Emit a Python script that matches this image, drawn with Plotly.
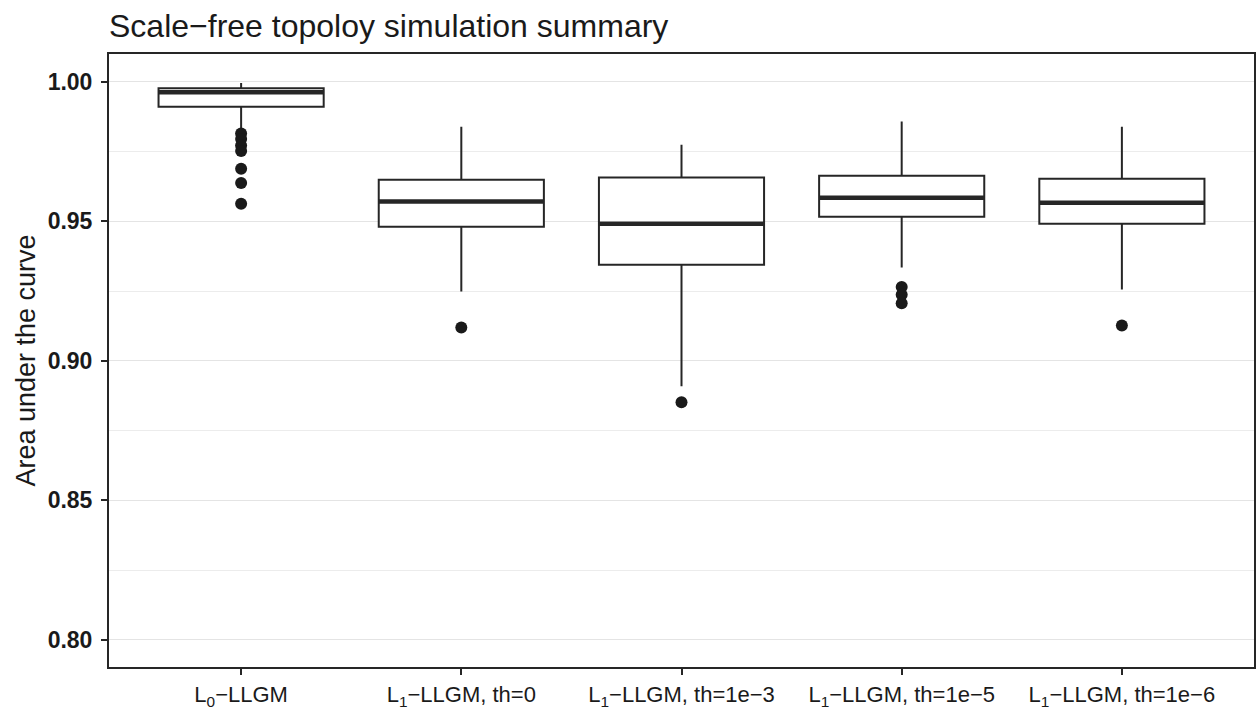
import plotly.graph_objects as go

# Method labels along the x axis
methods = [
    "L<sub>0</sub>\u2212LLGM",
    "L<sub>1</sub>\u2212LLGM, th=0",
    "L<sub>1</sub>\u2212LLGM, th=1e\u22123",
    "L<sub>1</sub>\u2212LLGM, th=1e\u22125",
    "L<sub>1</sub>\u2212LLGM, th=1e\u22126",
]

# Box summary statistics (AUC) per method
lower_whisker = [0.9815, 0.9249, 0.8909, 0.9335, 0.9256]
q1 = [0.9911, 0.9481, 0.9345, 0.9517, 0.9492]
median = [0.9963, 0.9571, 0.9492, 0.9585, 0.9567]
q3 = [0.9977, 0.9649, 0.9657, 0.9664, 0.9653]
upper_whisker = [0.9996, 0.9839, 0.9775, 0.9858, 0.9839]

# Outlying runs per method
outliers = [
    [0.9815, 0.9795, 0.9772, 0.9752, 0.9689, 0.9638, 0.9563],
    [0.9120],
    [0.8852],
    [0.9265, 0.9237, 0.9207],
    [0.9127],
]

y_ticks = [0.80, 0.85, 0.90, 0.95, 1.00]

positions = list(range(1, len(methods) + 1))
box_width = 0.75
ink = "#262626"

fig = go.Figure()

fig.add_trace(go.Box(
    x=positions,
    q1=q1,
    median=median,
    q3=q3,
    lowerfence=lower_whisker,
    upperfence=upper_whisker,
    width=box_width,
    whiskerwidth=0,
    fillcolor="white",
    line=dict(color=ink, width=2),
    boxpoints=False,
    hoverinfo="skip",
    showlegend=False,
))

# Thick median bars
mx, my = [], []
for p, m in zip(positions, median):
    mx += [p - box_width / 2, p + box_width / 2, None]
    my += [m, m, None]
fig.add_trace(go.Scatter(
    x=mx, y=my, mode="lines",
    line=dict(color=ink, width=4.5),
    hoverinfo="skip", showlegend=False,
))

# Outlier points
ox, oy = [], []
for p, vals in zip(positions, outliers):
    ox += [p] * len(vals)
    oy += vals
fig.add_trace(go.Scatter(
    x=ox, y=oy, mode="markers",
    marker=dict(color="#1a1a1a", size=12),
    hoverinfo="skip", showlegend=False,
))

fig.update_layout(
    width=1257, height=711,
    margin=dict(l=109, r=1, t=54, b=43),
    paper_bgcolor="white",
    plot_bgcolor="white",
    font=dict(family="Liberation Sans, Arial, sans-serif", color="#1a1a1a"),
    title=dict(
        text="Scale\u2212free topoloy simulation summary",
        x=109 / 1257, xanchor="left", xref="container",
        y=1 - 26 / 711, yanchor="middle", yref="container",
        font=dict(size=32, color="#1a1a1a"),
    ),
    xaxis=dict(
        range=[0.4, len(methods) + 0.6],
        tickmode="array", tickvals=positions, ticktext=methods,
        tickfont=dict(size=22, color="#1a1a1a"),
        showgrid=False, zeroline=False,
        ticks="outside", ticklen=6, tickcolor=ink, tickwidth=1.5,
        showline=True, mirror=True, linecolor=ink, linewidth=2,
        ticklabelstandoff=1,
    ),
    yaxis=dict(
        range=[0.7903, 1.0100],
        tickmode="array", tickvals=y_ticks,
        tickformat=".2f",
        tickfont=dict(size=23, color="#1a1a1a", weight="bold"),
        showgrid=True, gridcolor="#e4e4e4", gridwidth=1.3,
        minor=dict(dtick=0.025, tick0=0.8, showgrid=True,
                   gridcolor="#ececec", gridwidth=1, ticks=""),
        zeroline=False,
        ticks="outside", ticklen=6, tickcolor=ink, tickwidth=1.5,
        showline=True, mirror=True, linecolor=ink, linewidth=2,
        ticklabelstandoff=4,
        title=dict(text="Area under the curve",
                   font=dict(size=27, color="#1a1a1a"), standoff=4),
    ),
)

fig.write_html("out.html")
